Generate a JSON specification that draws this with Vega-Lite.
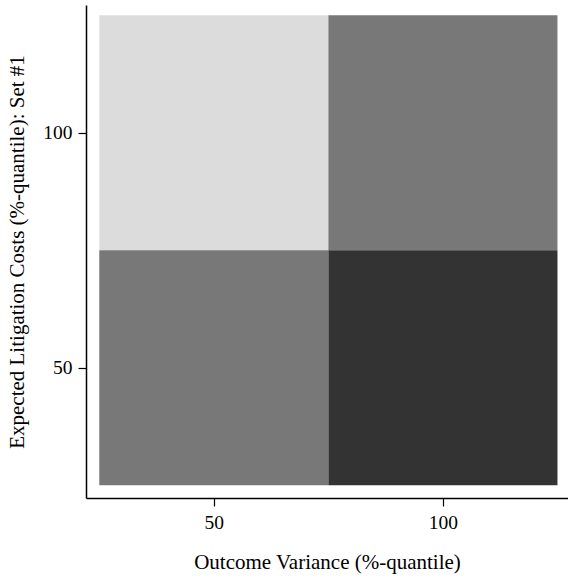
{
  "$schema": "https://vega.github.io/schema/vega-lite/v6.json",
  "width": 482,
  "height": 493,
  "autosize": {"type": "none"},
  "padding": {"left": 86, "top": 5, "right": 0, "bottom": 81},
  "background": "white",
  "config": {
    "view": {"stroke": null},
    "font": "Liberation Serif",
    "axis": {
      "grid": false,
      "domainColor": "black",
      "domainWidth": 1.5,
      "tickColor": "black",
      "tickWidth": 1.2,
      "tickSize": 8,
      "labelFont": "Liberation Serif",
      "labelFontSize": 19.5,
      "labelColor": "black",
      "titleFont": "Liberation Serif",
      "titleFontWeight": "normal",
      "titleColor": "black"
    }
  },
  "data": {
    "values": [
      {"ov": 50, "ov_lo": 25, "ov_hi": 75, "elc": 100, "elc_lo": 75, "elc_hi": 125, "level": 1},
      {"ov": 100, "ov_lo": 75, "ov_hi": 125, "elc": 100, "elc_lo": 75, "elc_hi": 125, "level": 2},
      {"ov": 50, "ov_lo": 25, "ov_hi": 75, "elc": 50, "elc_lo": 25, "elc_hi": 75, "level": 2},
      {"ov": 100, "ov_lo": 75, "ov_hi": 125, "elc": 50, "elc_lo": 25, "elc_hi": 75, "level": 3}
    ]
  },
  "mark": {"type": "rect"},
  "encoding": {
    "x": {
      "field": "ov_lo",
      "type": "quantitative",
      "scale": {"domain": [22.1, 127.3], "nice": false, "zero": false},
      "axis": {"values": [50, 100], "title": "Outcome Variance (%-quantile)", "titleFontSize": 21, "labelPadding": 7, "titlePadding": 20}
    },
    "x2": {"field": "ov_hi"},
    "y": {
      "field": "elc_lo",
      "type": "quantitative",
      "scale": {"domain": [22.3, 127.2], "nice": false, "zero": false},
      "axis": {"values": [50, 100], "title": "Expected Litigation Costs (%-quantile): Set #1", "titleFontSize": 21, "labelPadding": 6, "titlePadding": 15}
    },
    "y2": {"field": "elc_hi"},
    "color": {
      "field": "level",
      "type": "ordinal",
      "scale": {"domain": [1, 2, 3], "range": ["#dcdcdc", "#787878", "#333333"]},
      "legend": null
    }
  }
}
